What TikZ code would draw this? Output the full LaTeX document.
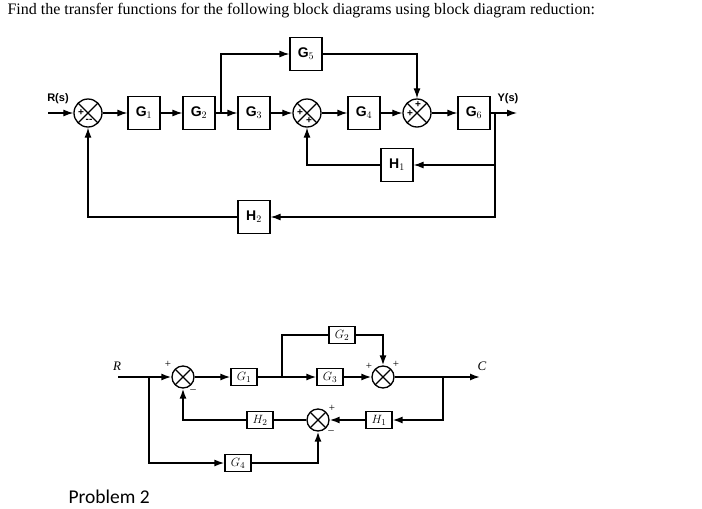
\documentclass[tikz,border=0pt]{standalone}
\usepackage{fontspec}
\setmainfont{Liberation Serif}
\newfontfamily\sansf{Liberation Sans}
\newfontfamily\calf{Carlito}
\usetikzlibrary{arrows.meta}
\begin{document}
\begin{tikzpicture}[x=1pt,y=-1pt,
  blkA/.style={draw,line width=1.2pt,minimum width=32pt,minimum height=33pt,inner sep=0pt,font=\sansf\bfseries\fontsize{14}{16}\selectfont},
  blkB/.style={draw,line width=1.2pt,minimum width=26pt,minimum height=17pt,inner sep=0pt,font=\fontsize{13}{15}\selectfont\itshape},
  sumj/.style={draw,circle,line width=1.3pt,minimum size=#1,inner sep=0pt,
    path picture={\draw[line width=1.3pt] (path picture bounding box.north west)--(path picture bounding box.south east)
      (path picture bounding box.north east)--(path picture bounding box.south west);}},
  wa/.style={line width=1.2pt,-{Latex[length=10pt,width=7pt]}},
  wb/.style={line width=1.6pt,-{Latex[length=10pt,width=7pt]}},
  wbn/.style={line width=1.6pt},
  sg/.style={font=\sansf\bfseries\fontsize{10}{10}\selectfont,inner sep=0pt},
  sgb/.style={font=\fontsize{11}{11}\selectfont,inner sep=0pt}]
\useasboundingbox (0,0) rectangle (702,509);
\node[anchor=west,font=\fontsize{16}{18}\selectfont] (title) at (4,11) {Find the transfer functions for the following block diagrams using block diagram reduction:};
% top diagram
\coordinate (in1) at (48,113);
\node[sumj=28pt] (s1) at (88,113) {};
\node[blkA] (g1) at (144,113) {G$_1$};
\node[blkA] (g2) at (199,113) {G$_2$};
\node[blkA] (g3) at (254,113) {G$_3$};
\node[sumj=28pt] (s2) at (307,113) {};
\node[blkA] (g4) at (364,113) {G$_4$};
\node[sumj=28pt] (s3) at (417,113) {};
\node[blkA] (g6) at (474,113) {G$_6$};
\node[blkA] (g5) at (306,54) {G$_5$};
\node[blkA] (h1) at (397,165) {H$_1$};
\node[blkA] (h2) at (254,217) {H$_2$};
\coordinate (out1) at (517,113);
\coordinate (b1) at (221,113);
\coordinate (b2) at (495,113);
\node[font=\sansf\bfseries\fontsize{11}{12}\selectfont] (rs) at (58,99) {R(s)};
\node[font=\sansf\bfseries\fontsize{11}{12}\selectfont] (ys) at (508,99) {Y(s)};
\node[sg] at (81,113) {+}; \node[sg] at (89,121) {--};
\node[sg] at (300,113) {+}; \node[sg] at (309,121) {+};
\node[sg] at (418,105) {+}; \node[sg] at (410,114) {+};
\draw[wa] (in1)--(s1);
\draw[wa] (s1)--(g1);
\draw[wa] (g1)--(g2);
\draw[wa] (g2)--(g3);
\draw[wa] (g3)--(s2);
\draw[wa] (s2)--(g4);
\draw[wa] (g4)--(s3);
\draw[wa] (s3)--(g6);
\draw[wa] (g6)--(out1);
\draw[wa] (b1)|-(g5);
\draw[wa] (g5)-|(s3);
\draw[wa] (b2)|-(h1);
\draw[wa] (h1)-|(s2);
\draw[wa] (b2)|-(h2);
\draw[wa] (h2)-|(s1);
% bottom diagram
\coordinate (in2) at (118,377);
\node[sumj=22pt] (t1) at (183,377) {};
\node[blkB] (bg1) at (244,377) {$G_1$};
\node[blkB] (bg3) at (330,377) {$G_3$};
\node[sumj=22pt] (t2) at (383,377) {};
\node[blkB] (bg2) at (342,335) {$G_2$};
\node[blkB] (bh1) at (379,420) {$H_1$};
\node[sumj=22pt] (t3) at (318,420) {};
\node[blkB] (bh2) at (260,420) {$H_2$};
\node[blkB] (bg4) at (238,463) {$G_4$};
\coordinate (out2) at (480,377);
\coordinate (c1) at (282,377);
\coordinate (c2) at (443,377);
\coordinate (c3) at (149,377);
\node[font=\fontsize{13}{15}\selectfont\itshape] (lr) at (117,366) {R};
\node[font=\fontsize{13}{15}\selectfont\itshape] (lc) at (482,366) {C};
\node[sgb] at (168,364) {+}; \node[sgb] at (193,391) {--};
\node[sgb] at (369,366) {+}; \node[sgb] at (396,364) {+};
\node[sgb] at (332,408) {+}; \node[sgb] at (331,432) {--};
\draw[wb] (in2)--(t1);
\draw[wb] (t1)--(bg1);
\draw[wb] (bg1)--(bg3);
\draw[wb] (bg3)--(t2);
\draw[wb] (t2)--(out2);
\draw[wbn] (c1)|-(bg2);
\draw[wb] (bg2)-|(t2);
\draw[wb] (c2)|-(bh1);
\draw[wb] (bh1)--(t3);
\draw[wbn] (t3)--(bh2);
\draw[wb] (bh2)-|(t1);
\draw[wb] (c3)|-(bg4);
\draw[wb] (bg4)-|(t3);
\node[font=\calf\fontsize{19.5}{21}\selectfont,anchor=west] (p2) at (65,497) {Problem 2};
\end{tikzpicture}
\end{document}
